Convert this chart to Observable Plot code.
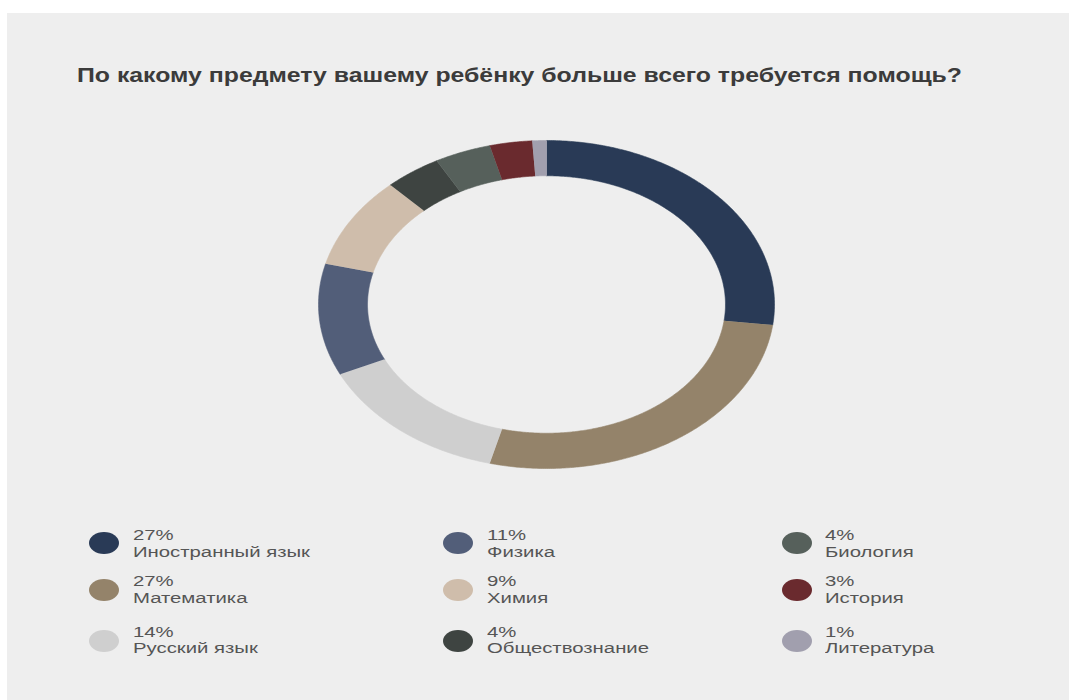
<!DOCTYPE html>
<html>
<head>
<meta charset="utf-8">
<script src="https://cdn.jsdelivr.net/npm/d3@7"></script>
<script src="https://cdn.jsdelivr.net/npm/@observablehq/plot@0.6"></script>
<style>
  html, body { margin: 0; padding: 0; background: #ffffff; }
  #card { position: absolute; left: 7px; top: 13px; width: 1062px; height: 687px; background: #eeeeee; }
  .abs { position: absolute; white-space: nowrap; }
  #title { font-family: "Liberation Sans", Arial, sans-serif; font-weight: 700; font-size: 19.5px; line-height: 1; color: #3b3b3b; transform-origin: 0 0; }
  .lt { font-family: "Liberation Sans", Arial, sans-serif; font-size: 14px; line-height: 1; color: #555555; transform-origin: 0 0; }
  .sw { position: absolute; width: 30px; height: 22px; border-radius: 50%; }
  #chart { position: absolute; left: 316px; top: 138px; }
</style>
</head>
<body>
<div id="card"></div>
<div id="root"></div>
<script>
// ---- data ----
const title = "По какому предмету вашему ребёнку больше всего требуется помощь?";
const categories = ["Иностранный язык", "Математика", "Русский язык", "Физика", "Химия", "Обществознание", "Биология", "История", "Литература"];
const values = [27, 27, 14, 11, 9, 4, 4, 3, 1];
const percentLabels = ["27%", "27%", "14%", "11%", "9%", "4%", "4%", "3%", "1%"];
const colors = ["#293a56", "#94836a", "#cfcfcf", "#525e79", "#cfbdab", "#3e4441", "#56605b", "#6a2a2e", "#a19fae"];

// ---- donut geometry from values (angles via d3.pie) ----
const innerRatio = 0.785;
const arcs = d3.pie().sort(null).value(d => d)(values);
const pts = [];
arcs.forEach((a, i) => {
  const n = Math.max(2, Math.ceil((a.endAngle - a.startAngle) / (Math.PI / 360)));
  for (let k = 0; k <= n; k++) {
    const t = a.startAngle + (a.endAngle - a.startAngle) * k / n;
    pts.push({cat: categories[i], x: Math.sin(t), y: Math.cos(t)});
  }
  for (let k = n; k >= 0; k--) {
    const t = a.startAngle + (a.endAngle - a.startAngle) * k / n;
    pts.push({cat: categories[i], x: innerRatio * Math.sin(t), y: innerRatio * Math.cos(t)});
  }
});

const chart = Plot.plot({
  width: 460,
  height: 332,
  margin: 2,
  style: {background: "transparent"},
  x: {domain: [-1, 1], axis: null},
  y: {domain: [-1, 1], axis: null},
  color: {domain: categories, range: colors},
  marks: [
    Plot.line(pts, {x: "x", y: "y", z: "cat", fill: "cat", stroke: "cat", strokeWidth: 0.6, curve: "linear"})
  ]
});
chart.id = "chart";
const root = document.getElementById("root");
root.appendChild(chart);

// ---- title ----
const t = document.createElement("div");
t.id = "title"; t.className = "abs"; t.textContent = title;
t.style.left = "77px"; t.style.top = "65.5px";
root.appendChild(t);
const tw = t.getBoundingClientRect().width;
t.style.transform = `scaleX(${885 / tw})`;

// ---- legend (3 columns, column-major) ----
const colSwX = [104, 458, 797];
const colTxX = [133, 487, 825];
const rowCy = [543, 590, 641];
const rowPctBase = [540, 586, 637];
const rowLblBase = [557, 603, 653];
const texts = [];
categories.forEach((c, i) => {
  const col = Math.floor(i / 3), row = i % 3;
  const sw = document.createElement("div");
  sw.className = "sw";
  sw.style.background = colors[i];
  sw.style.left = (colSwX[col] - 15) + "px";
  sw.style.top = (rowCy[row] - 11) + "px";
  root.appendChild(sw);
  const p = document.createElement("div");
  p.className = "abs lt"; p.textContent = percentLabels[i];
  p.style.left = colTxX[col] + "px"; p.style.top = (rowPctBase[row] - 12) + "px";
  root.appendChild(p);
  const l = document.createElement("div");
  l.className = "abs lt"; l.textContent = c;
  l.style.left = colTxX[col] + "px"; l.style.top = (rowLblBase[row] - 12) + "px";
  root.appendChild(l);
  texts.push(p, l);
  if (i === 0) l.dataset.ref = "1";
});
const ref = texts.find(e => e.dataset.ref);
const k = 177 / ref.getBoundingClientRect().width;
texts.forEach(e => e.style.transform = `scaleX(${k})`);
</script>
</body>
</html>
